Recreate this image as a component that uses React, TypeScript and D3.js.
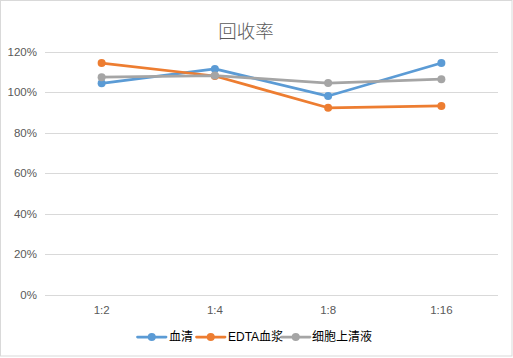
import React from "react";
import * as d3 from "d3";

const categories = ["1:2", "1:4", "1:8", "1:16"];
const serum = [104.3, 111.4, 98.0, 114.3];
const edtaPlasma = [114.3, 107.9, 92.2, 93.1];
const cellSupernatant = [107.3, 108.1, 104.4, 106.3];
const yTicks = [0, 20, 40, 60, 80, 100, 120];
const seriesNames = ["血清", "EDTA血浆", "细胞上清液"];
const seriesColors = ["#5B9BD5", "#ED7D31", "#A5A5A5"];

const W = 513;
const H = 358;
const FONT = "'Liberation Sans', 'Noto Sans CJK SC', sans-serif";

export default function App() {
  const x = d3.scaleBand<string>().domain(categories).range([45, 498]);
  const y = d3.scaleLinear().domain([0, 120]).range([294.5, 51.5]);
  const series = [serum, edtaPlasma, cellSupernatant];
  const line = d3
    .line<number>()
    .x((_, i) => (x(categories[i]) as number) + x.bandwidth() / 2)
    .y((d) => y(d));

  const legendItems = [
    { lineX: 137.5, textX: 169 },
    { lineX: 196.5, textX: 228 },
    { lineX: 281.5, textX: 312 },
  ];
  const legendY = 337;

  return (
    <svg
      width={W}
      height={H}
      style={{ position: "fixed", left: 0, top: 0, background: "#fff" }}
      fontFamily={FONT}
    >
      <rect x={0.5} y={0.5} width={511.5} height={355.5} fill="#fff" stroke="#d9d9d9" />
      <text x={246} y={38} textAnchor="middle" fontSize={18.5} fill="#595959" fontWeight={300}
        fontFamily="'Noto Sans CJK SC', sans-serif">
        回收率
      </text>
      {yTicks.map((t) => (
        <g key={t}>
          <line x1={45} x2={498} y1={Math.round(y(t)) + 0.5} y2={Math.round(y(t)) + 0.5} stroke="#d9d9d9" />
          <text x={37} y={y(t)} dy="0.35em" textAnchor="end" fontSize={11.5} fill="#595959">
            {t}%
          </text>
        </g>
      ))}
      {categories.map((c) => (
        <text key={c} x={(x(c) as number) + x.bandwidth() / 2} y={310} dy="0.35em"
          textAnchor="middle" fontSize={11.5} fill="#595959">
          {c}
        </text>
      ))}
      {series.map((s, si) => (
        <g key={si}>
          <path d={line(s) || ""} fill="none" stroke={seriesColors[si]} strokeWidth={2.75} strokeLinejoin="round" strokeLinecap="round" />
          {s.map((v, i) => (
            <circle key={i} cx={(x(categories[i]) as number) + x.bandwidth() / 2} cy={y(v)} r={4} fill={seriesColors[si]} />
          ))}
        </g>
      ))}
      {seriesNames.map((n, i) => (
        <g key={n}>
          <line x1={legendItems[i].lineX} x2={legendItems[i].lineX + 28.5} y1={legendY} y2={legendY}
            stroke={seriesColors[i]} strokeWidth={2.75} strokeLinecap="round" />
          <circle cx={legendItems[i].lineX + 14.25} cy={legendY} r={4} fill={seriesColors[i]} />
          <text x={legendItems[i].textX} y={legendY} dy="0.35em" fontSize={12} fill="#000">
            {n}
          </text>
        </g>
      ))}
    </svg>
  );
}
